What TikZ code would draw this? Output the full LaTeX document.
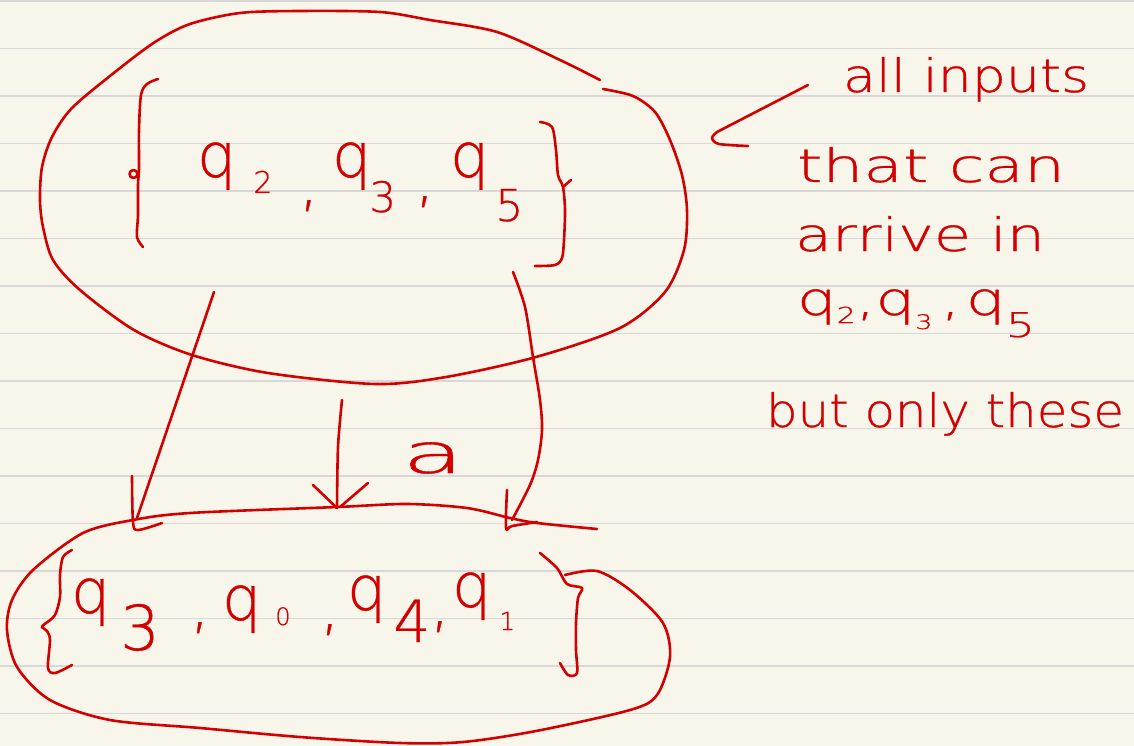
\documentclass[tikz,border=0pt]{standalone}
\usepackage{fontspec}
\setmainfont{DejaVu Sans ExtraLight}[BoldFont={DejaVu Sans ExtraLight}, BoldFeatures={FakeBold=0.6}]
\usepackage{graphicx}
\definecolor{paper}{RGB}{248,246,234}
\definecolor{ruling}{RGB}{216,216,216}
\definecolor{inkred}{RGB}{210,0,0}
\newcommand\subd[3]{\raisebox{#1}{\fontsize{#2}{#2}\selectfont #3}}
\begin{document}
\begin{tikzpicture}[x=1pt,y=-1pt,
  ink/.style={draw=inkred, line width=2.6pt, line cap=round, line join=round},
  hand/.style={text=inkred, inner sep=0pt, outer sep=0pt, anchor=base west},
  big/.style={hand, font=\fontsize{62}{62}\selectfont\bfseries},
  note/.style={hand, font=\fontsize{46}{46}\selectfont\bfseries}]
\fill[paper] (0,0) rectangle (1134,746);
\useasboundingbox (0,0) rectangle (1134,746);
\foreach \k in {0,...,15} \draw[ruling, line width=1.5pt] (0,{1+47.5*\k}) -- (1134,{1+47.5*\k});

% ---- top set outline
\draw[ink] plot[smooth] coordinates {(600,80) (560,60) (497,32) (430,20) (380,12) (300,11) (240,13) (190,24) (155,42) (115,72) (72,108) (52,137) (42,167) (40,200) (43,227) (53,260) (80,290) (134,330) (192,355) (268,373) (375,384) (446,377) (536,357) (620,328) (665,292) (684,250) (687,210) (682,175) (670,140) (655,112) (633,96) (603,89)};
% braces of top set
\draw[ink] plot[smooth] coordinates {(158,79) (147,84) (141,95) (139,130) (139,168) (138,185) (138,215) (137,237) (143,247)};
\draw[ink] (133.5,174) circle (4);
\draw[ink] plot[smooth] coordinates {(540,122) (552,127) (556,150) (558,175) (563,187) (565,210) (564,240) (562,258) (555,265) (535,266)};
\draw[ink] (563,187) -- (571,180);
% top set text
\node[big] (q2) at (197,177) {q\hspace{17pt}\subd{-16pt}{30}{2}};
\node[big] (c1) at (299,204) {,};
\node[big] (q3) at (332,177) {q\hspace{-2pt}\subd{-35pt}{42}{3}};
\node[big] (c2) at (415,200) {,};
\node[big] (q5) at (450,177) {q\hspace{6pt}\subd{-44pt}{44}{5}};

% ---- bottom set outline
\draw[ink] plot[smooth] coordinates {(597,529) (537,523) (510,518) (467,508) (407,504) (337,507) (190,513) (133,520) (83,533) (33,570) (12,600) (7,630) (17,667) (50,700) (110,720) (200,728) (300,737) (400,743) (463,742) (536,731) (630,710) (657,695) (670,657) (663,623) (630,590) (597,571) (565,575)};
% braces of bottom set
\draw[ink] plot[smooth] coordinates {(72,550) (63,557) (60,575) (60,597) (55,615) (46,623)};
\draw[ink] plot[smooth] coordinates {(46,623) (42,627) (47,631) (50,640) (48,668) (55,673) (72,665)};
\draw[ink] plot[smooth] coordinates {(540,553) (557,568) (567,584) (582,588) (578,598) (576,623) (576,650) (577,673) (568,675) (560,663)};
% bottom set text
\node[big] (b3) at (71,613) {q\hspace{10pt}\subd{-37pt}{62}{3}};
\node[big] (bc1) at (190,626) {,};
\node[big] (b0) at (222,620) {q\hspace{14pt}\subd{-5pt}{24}{0}};
\node[big] (bc2) at (320,628) {,};
\node[big] (b4) at (347,610) {q\hspace{7pt}\subd{-32pt}{58}{4}};
\node[big] (bc3) at (430,625) {,};
\node[big] (b1) at (452,607) {q\hspace{8pt}\subd{-23pt}{25}{1}};

% ---- transition arrows
\coordinate (a1s) at (214,292); \coordinate (a1e) at (137,518);
\draw[ink] (a1s) -- (a1e);
\draw[ink] plot[smooth] coordinates {(132,476) (133,522) (138,530) (162,523)};
\coordinate (a2s) at (342,400); \coordinate (a2e) at (337,508);
\draw[ink] plot[smooth] coordinates {(a2s) (338,447) (a2e)};
\draw[ink] (313,485) -- (a2e);
\draw[ink] (368,483) -- (340,507);
\coordinate (a3s) at (513,272); \coordinate (a3e) at (512,520);
\draw[ink] plot[smooth] coordinates {(a3s) (525,307) (533,357) (540,400) (542,430) (538,460) (530,485) (a3e)};
\draw[ink] plot[smooth] coordinates {(507,490) (506,528) (512,526) (537,522)};
\node[hand, font=\fontsize{55}{55}\selectfont\bfseries] (lbl) at (402,473) {\resizebox{62pt}{\height}{a}};

% ---- annotation
\coordinate (ns) at (808,85); \coordinate (ne) at (717,132);
\draw[ink] (ns) -- (ne);
\draw[ink] plot[smooth] coordinates {(ne) (712,138) (719,144) (748,146)};
\node[note] (n1) at (843,92) {\resizebox{246pt}{\height}{all inputs}};
\node[note] (n2) at (797,182) {\resizebox{268pt}{\height}{that can}};
\node[note] (n3) at (795,251) {\resizebox{250pt}{\height}{arrive in}};
\node[note] (n4) at (797,315) {\resizebox{238pt}{\height}{q\subd{-8pt}{22}{2},q\subd{-14pt}{20}{3}\hspace{6pt},\hspace{4pt}q\subd{-22pt}{34}{5}}};
\node[note] (n5) at (766,427) {\resizebox{358pt}{\height}{but only these}};
\end{tikzpicture}
\end{document}
